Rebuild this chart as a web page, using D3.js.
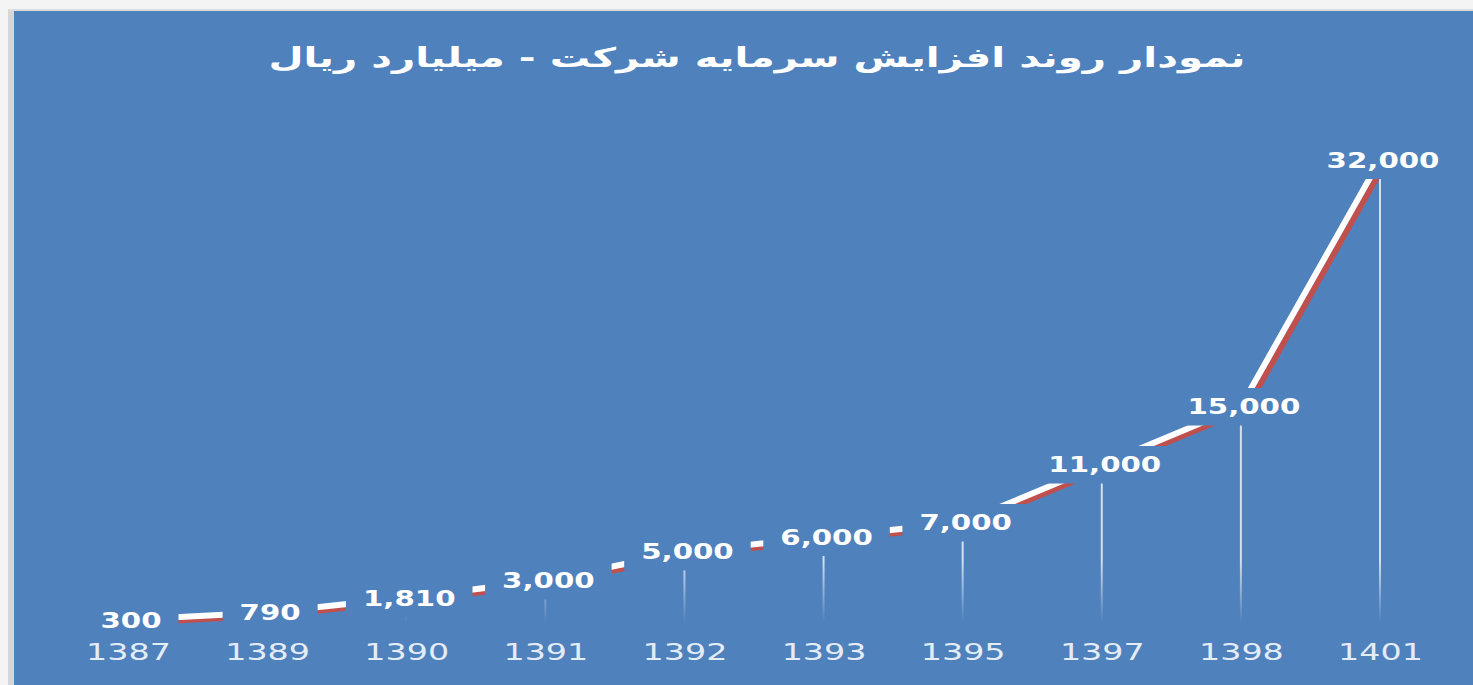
<!DOCTYPE html>
<html>
<head>
<meta charset="utf-8">
<script src="https://cdn.jsdelivr.net/npm/d3@7"></script>
<style>
  body { margin: 0; background: #fff; }
  svg { display: block; }
</style>
</head>
<body>
<svg width="1473" height="685"></svg>
<script>
// chart data
const years = ["1387", "1389", "1390", "1391", "1392", "1393", "1395", "1397", "1398", "1401"];
const capital = [300, 790, 1810, 3000, 5000, 6000, 7000, 11000, 15000, 32000];
const title = "نمودار روند افزایش سرمایه شرکت - میلیارد ریال";

const data = years.map((y, i) => ({year: y, value: capital[i]}));

const svg = d3.select("svg");
const blue = "#4f81bd";

// frame: light strips on top and left, then the blue plot
svg.append("rect").attr("width", 1473).attr("height", 685).attr("fill", "#f4f4f4");
svg.append("rect").attr("x", 8).attr("y", 9).attr("width", 6).attr("height", 676).attr("fill", "#d6d6d6");
svg.append("rect").attr("x", 8).attr("y", 9).attr("width", 1465).attr("height", 2).attr("fill", "#dcdcdc");
svg.append("rect").attr("x", 14).attr("y", 11).attr("width", 1459).attr("height", 674).attr("fill", blue);

const x = d3.scalePoint().domain(years).range([128, 1380]);
const y = d3.scaleLinear().domain([0, 32000]).range([624, 160]);

// title
svg.append("text")
    .attr("x", 757).attr("y", 67)
    .attr("text-anchor", "middle")
    .attr("direction", "rtl")
    .attr("textLength", 977)
    .attr("lengthAdjust", "spacingAndGlyphs")
    .attr("fill", "#fff")
    .style("font-family", "'DejaVu Sans', sans-serif")
    .style("font-weight", "bold")
    .style("font-size", "27px")
    .text(title);

// fading drop lines
const grad = svg.append("defs").append("linearGradient")
    .attr("id", "fade").attr("gradientUnits", "userSpaceOnUse")
    .attr("x1", 0).attr("x2", 0).attr("y1", 560).attr("y2", 622);
grad.append("stop").attr("offset", 0).attr("stop-color", "#fff").attr("stop-opacity", 0.75);
grad.append("stop").attr("offset", 1).attr("stop-color", "#fff").attr("stop-opacity", 0);

svg.append("g").selectAll("line")
    .data(data)
    .join("line")
    .attr("x1", d => x(d.year)).attr("x2", d => x(d.year))
    .attr("y1", d => y(d.value)).attr("y2", y(0))
    .attr("stroke", "url(#fade)")
    .attr("stroke-width", 2);

// ribbon line: red face + white top
const line = d3.line().x(d => x(d.year)).y(d => y(d.value));
svg.append("path").datum(data)
    .attr("d", line)
    .attr("transform", "translate(5,3)")
    .attr("fill", "none").attr("stroke", "#c0504d").attr("stroke-width", 6);
svg.append("path").datum(data)
    .attr("d", line)
    .attr("fill", "none").attr("stroke", "#fff").attr("stroke-width", 6);

// value labels with blue boxes that hide the line
const fmt = d3.format(",");
const sxVal = 1.33;
const lab = svg.append("g").selectAll("g")
    .data(data)
    .join("g")
    .attr("transform", d => `translate(${x(d.year) + 3},${y(d.value)}) scale(${sxVal},1)`);
lab.append("text")
    .attr("text-anchor", "middle")
    .attr("dy", "0.36em")
    .attr("fill", "#fff")
    .style("font-family", "'DejaVu Sans', sans-serif")
    .style("font-weight", "bold")
    .style("font-size", "22px")
    .text(d => fmt(d.value));
lab.each(function() {
  const g = d3.select(this);
  const b = g.select("text").node().getBBox();
  const px = 17 / sxVal, py = 6;
  g.insert("rect", "text")
      .attr("x", b.x - px).attr("y", b.y - py)
      .attr("width", b.width + 2 * px).attr("height", b.height + 2 * py)
      .attr("fill", blue);
});

// category axis
const axis = svg.append("g")
    .attr("transform", "translate(0,644)")
    .call(d3.axisBottom(x).tickSize(0).tickPadding(0));
axis.select(".domain").remove();
axis.selectAll("text")
    .attr("transform", "scale(1.45,1)")
    .attr("fill", "#e4ecf6")
    .style("font-family", "'DejaVu Sans', sans-serif")
    .style("font-size", "23px");
</script>
</body>
</html>
